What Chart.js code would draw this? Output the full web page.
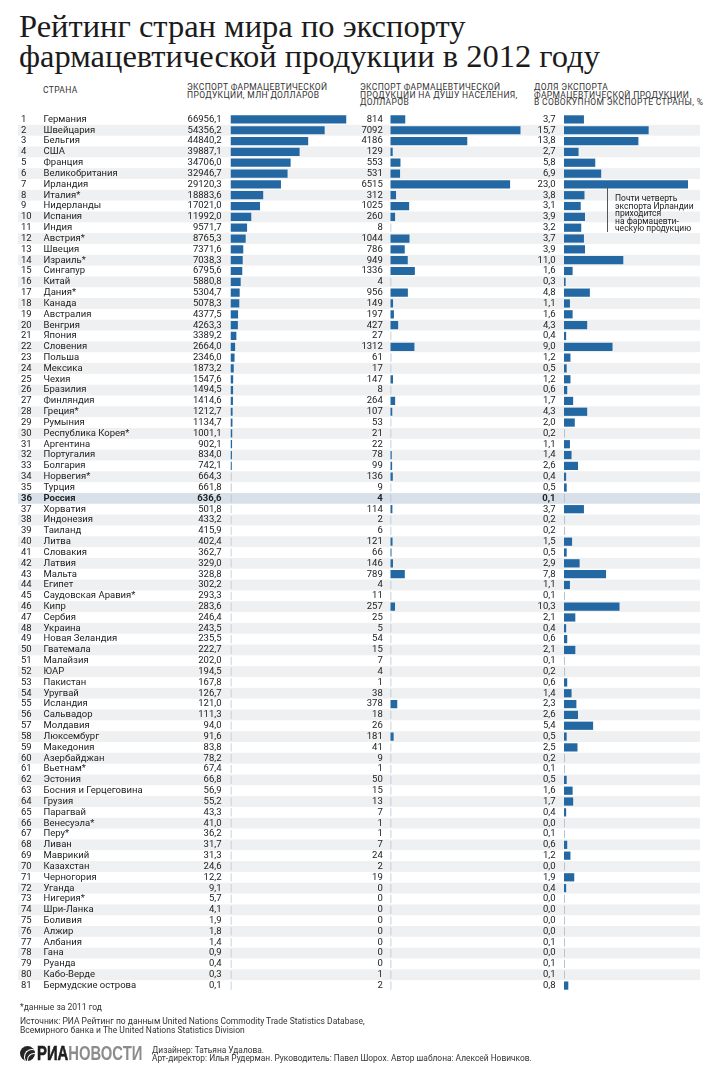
<!DOCTYPE html>
<html lang="ru">
<head>
<meta charset="UTF-8">
<title>Рейтинг стран мира по экспорту фармацевтической продукции в 2012 году</title>
<style>
  body { margin: 0; background: #fff; font-family: Roboto, Arial, sans-serif; color: #222; }
  .page { position: relative; width: 720px; height: 1082px; overflow: hidden; }
  h1 {
    position: absolute; left: 19px; top: 11px; margin: 0;
    font-family: "Liberation Serif", serif; font-weight: normal;
    font-size: 32.5px; line-height: 30px; color: #1b1b1b;
  }
  .hdr { position: absolute; top: 84px; font-size: 8.5px; line-height: 7.5px; letter-spacing: 0.35px; color: #333; white-space: nowrap; }
  .chart-box { position: absolute; left: 0; top: 97.5px; width: 720px; height: 909px; }
  .vline { position: absolute; left: 607px; top: 187px; width: 0; height: 45px; border-left: 1px solid #555; }
  .note { position: absolute; left: 615px; top: 195px; font-size: 8.5px; line-height: 7.5px; color: #222; white-space: nowrap; }
  .foot { position: absolute; left: 20px; font-size: 8.5px; line-height: 9px; color: #333; white-space: nowrap; }
  .logo { position: absolute; left: 20px; top: 1046px; height: 16px; }
  .logo .ball { position: absolute; left: 0; top: 0; width: 15px; height: 15px; border-radius: 50%; background: #262626; overflow: hidden; }
  .logo .ball::before { content: ""; position: absolute; left: 4px; top: 3px; width: 14px; height: 14px; border-radius: 50%; border: 1.5px solid #fff; border-color: #fff transparent transparent #fff; }
  .logo .ball::after { content: ""; position: absolute; left: 7px; top: 7px; width: 12px; height: 12px; border-radius: 50%; border: 1.5px solid #fff; border-color: #fff transparent transparent #fff; }
  .logo .word {
    position: absolute; left: 17px; top: -3px; font-family: "Liberation Sans", Arial, sans-serif;
    font-weight: bold; font-size: 19.5px; line-height: 21px; transform: scaleX(0.76); transform-origin: left top; white-space: nowrap;
  }
  .logo .ria { color: #1e1e1e; -webkit-text-stroke: 0.6px #1e1e1e; }
  .logo .news { color: #8c8c8c; }
  .credits { position: absolute; left: 152px; top: 1046px; font-size: 8.4px; line-height: 8px; color: #333; white-space: nowrap; }
</style>
</head>
<body>
<div class="page">
  <h1>Рейтинг стран мира по экспорту<br>фармацевтической продукции в 2012 году</h1>

  <div class="hdr" style="left:43px; top:87px">СТРАНА</div>
  <div class="hdr" style="left:187px">ЭКСПОРТ ФАРМАЦЕВТИЧЕСКОЙ<br>ПРОДУКЦИИ, МЛН ДОЛЛАРОВ</div>
  <div class="hdr" style="left:360px">ЭКСПОРТ ФАРМАЦЕВТИЧЕСКОЙ<br>ПРОДУКЦИИ НА ДУШУ НАСЕЛЕНИЯ,<br>ДОЛЛАРОВ</div>
  <div class="hdr" style="left:534px">ДОЛЯ ЭКСПОРТА<br>ФАРМАЦЕВТИЧЕСКОЙ ПРОДУКЦИИ<br>В СОВОКУПНОМ ЭКСПОРТЕ СТРАНЫ, %</div>

  <div class="chart-box"><canvas id="exportChart"></canvas></div>
  <div class="chart-box"><canvas id="perCapitaChart"></canvas></div>
  <div class="chart-box"><canvas id="shareChart"></canvas></div>

  <div class="vline"></div>
  <div class="note">Почти четверть<br>экспорта Ирландии<br>приходится<br>на фармацевти-<br>ческую продукцию</div>

  <div class="foot" style="top:1003px">*данные за 2011 год</div>
  <div class="foot" style="top:1016.5px">Источник: РИА Рейтинг по данным United Nations Commodity Trade Statistics Database,<br>Всемирного банка и The United Nations Statistics Division</div>

  <div class="logo"><div class="ball"></div><div class="word"><span class="ria">РИА</span><span class="news">НОВОСТИ</span></div></div>
  <div class="credits">Дизайнер: Татьяна Удалова.<br>Арт-директор: Илья Рудерман. Руководитель: Павел Шорох. Автор шаблона: Алексей Новичков.</div>
</div>

<script src="https://cdn.jsdelivr.net/npm/chart.js"></script>
<script>
const countries = [
  'Германия', 'Швейцария', 'Бельгия', 'США', 'Франция', 'Великобритания', 'Ирландия', 'Италия*', 'Нидерланды', 'Испания',
  'Индия', 'Австрия*', 'Швеция', 'Израиль*', 'Сингапур', 'Китай', 'Дания*', 'Канада', 'Австралия', 'Венгрия',
  'Япония', 'Словения', 'Польша', 'Мексика', 'Чехия', 'Бразилия', 'Финляндия', 'Греция*', 'Румыния', 'Республика Корея*',
  'Аргентина', 'Португалия', 'Болгария', 'Норвегия*', 'Турция', 'Россия', 'Хорватия', 'Индонезия', 'Таиланд', 'Литва',
  'Словакия', 'Латвия', 'Мальта', 'Египет', 'Саудовская Аравия*', 'Кипр', 'Сербия', 'Украина', 'Новая Зеландия', 'Гватемала',
  'Малайзия', 'ЮАР', 'Пакистан', 'Уругвай', 'Исландия', 'Сальвадор', 'Молдавия', 'Люксембург', 'Македония', 'Азербайджан',
  'Вьетнам*', 'Эстония', 'Босния и Герцеговина', 'Грузия', 'Парагвай', 'Венесуэла*', 'Перу*', 'Ливан', 'Маврикий', 'Казахстан',
  'Черногория', 'Уганда', 'Нигерия*', 'Шри-Ланка', 'Боливия', 'Алжир', 'Албания', 'Гана', 'Руанда', 'Кабо-Верде',
  'Бермудские острова'
];

// экспорт, млн долларов
const exportMln = [
  66956.1, 54356.2, 44840.2, 39887.1, 34706.0, 32946.7, 29120.3, 18883.6, 17021.0, 11992.0,
  9571.7, 8765.3, 7371.6, 7038.3, 6795.6, 5880.8, 5304.7, 5078.3, 4377.5, 4263.3,
  3389.2, 2664.0, 2346.0, 1873.2, 1547.6, 1494.5, 1414.6, 1212.7, 1134.7, 1001.1,
  902.1, 834.0, 742.1, 664.3, 661.8, 636.6, 501.8, 433.2, 415.9, 402.4,
  362.7, 329.0, 328.8, 302.2, 293.3, 283.6, 246.4, 243.5, 235.5, 222.7,
  202.0, 194.5, 167.8, 126.7, 121.0, 111.3, 94.0, 91.6, 83.8, 78.2,
  67.4, 66.8, 56.9, 55.2, 43.3, 41.0, 36.2, 31.7, 31.3, 24.6,
  12.2, 9.1, 5.7, 4.1, 1.9, 1.8, 1.4, 0.9, 0.4, 0.3,
  0.1
];

// экспорт на душу населения, долларов
const perCapita = [
  814, 7092, 4186, 129, 553, 531, 6515, 312, 1025, 260,
  8, 1044, 786, 949, 1336, 4, 956, 149, 197, 427,
  27, 1312, 61, 17, 147, 8, 264, 107, 53, 21,
  22, 78, 99, 136, 9, 4, 114, 2, 6, 121,
  66, 146, 789, 4, 11, 257, 25, 5, 54, 15,
  7, 4, 1, 38, 378, 18, 26, 181, 41, 9,
  1, 50, 15, 13, 7, 1, 1, 7, 24, 2,
  19, 0, 0, 0, 0, 0, 0, 0, 0, 1,
  2
];

// доля в совокупном экспорте страны, %
const sharePct = [
  3.7, 15.7, 13.8, 2.7, 5.8, 6.9, 23.0, 3.8, 3.1, 3.9,
  3.2, 3.7, 3.9, 11.0, 1.6, 0.3, 4.8, 1.1, 1.6, 4.3,
  0.4, 9.0, 1.2, 0.5, 1.2, 0.6, 1.7, 4.3, 2.0, 0.2,
  1.1, 1.4, 2.6, 0.4, 0.5, 0.1, 3.7, 0.2, 0.2, 1.5,
  0.5, 2.9, 7.8, 1.1, 0.1, 10.3, 2.1, 0.4, 0.6, 2.1,
  0.1, 0.2, 0.6, 1.4, 2.3, 2.6, 5.4, 0.5, 2.5, 0.2,
  0.1, 0.5, 1.6, 1.7, 0.4, 0.0, 0.1, 0.6, 1.2, 0.0,
  1.9, 0.4, 0.0, 0.0, 0.0, 0.0, 0.1, 0.0, 0.1, 0.1,
  0.8
];

const ranks = countries.map((c, i) => String(i + 1));
const RUSSIA = countries.indexOf('Россия');

const BLUE = '#2368a2';
const PALE = '#b5c5d4';
const fmt1 = v => v.toFixed(1).replace('.', ',');

Chart.defaults.font.family = 'Roboto';
Chart.defaults.font.size = 9.5;

// строки-полоски под таблицей (рисуются до осей)
const rowStripes = {
  id: 'rowStripes',
  beforeDraw(chart) {
    const y = chart.scales.y;
    const ctx = chart.ctx;
    const step = y.height / countries.length;
    ctx.save();
    countries.forEach((c, i) => {
      if (i % 2 === 0 && i !== RUSSIA) return;
      ctx.fillStyle = i === RUSSIA ? '#d8e1e9' : '#eff0f2';
      ctx.fillRect(18, y.getPixelForValue(i) - step / 2, 682, step);
    });
    ctx.restore();
  }
};

function rowFont(c) {
  return { family: 'Roboto', size: 9.5, weight: c.index === RUSSIA ? 'bold' : 'normal' };
}

// очень короткие столбики выглядят бледной чертой
function barColor(c) {
  const x = c.chart.scales.x;
  const len = x.getPixelForValue(c.raw) - x.getPixelForValue(0);
  return len < 1.2 ? PALE : BLUE;
}

function labelAxis(labels, width, weight, align, pad) {
  return {
    type: 'category',
    position: 'left',
    labels: labels,
    offset: true,
    weight: weight,
    grid: { display: false, drawTicks: false },
    border: { display: false },
    ticks: { autoSkip: false, crossAlign: align, padding: pad, color: '#222', font: rowFont },
    afterFit: s => { s.width = width; }
  };
}

function barChart(id, values, max, yScales, padLeft, padRight, plugins) {
  return new Chart(document.getElementById(id), {
    type: 'bar',
    data: {
      labels: countries,
      datasets: [{
        data: values,
        xAxisID: 'x',
        yAxisID: 'y',
        backgroundColor: barColor,
        barPercentage: 0.76,
        categoryPercentage: 1,
        minBarLength: 1
      }]
    },
    options: {
      indexAxis: 'y',
      responsive: true,
      maintainAspectRatio: false,
      animation: false,
      layout: { padding: { left: padLeft, right: padRight, top: 16, bottom: 16 } },
      plugins: { legend: { display: false }, tooltip: { enabled: false } },
      scales: Object.assign({ x: { type: 'linear', display: false, min: 0, max: max } }, yScales)
    },
    plugins: plugins || []
  });
}

barChart('exportChart', exportMln, 66956.1, {
  yRank: labelAxis(ranks, 22.5, 2, 'far', 0),
  yName: labelAxis(countries, 127, 1, 'far', 0),
  y: labelAxis(exportMln.map(fmt1), 60, 0, 'near', 9)
}, 21, 373.5, [rowStripes]);

barChart('perCapitaChart', perCapita, 7092, {
  y: labelAxis(perCapita.map(String), 60, 0, 'near', 7.5)
}, 330.3, 199.3);

barChart('shareChart', sharePct, 23.0, {
  y: labelAxis(sharePct.map(fmt1), 60, 0, 'near', 8.5)
}, 504, 32);
</script>
</body>
</html>
